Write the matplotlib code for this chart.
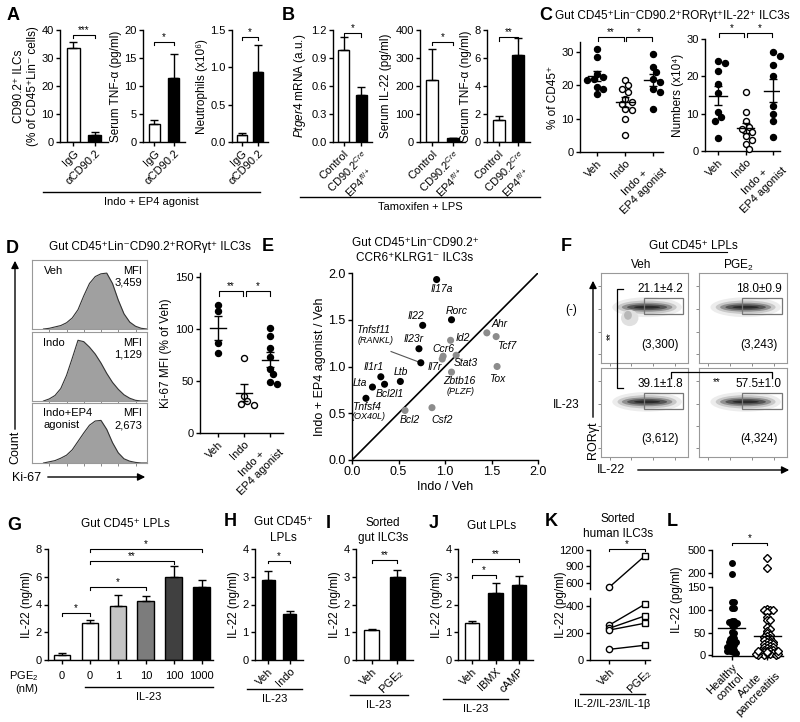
import numpy as np
import matplotlib
matplotlib.use('Agg')
import matplotlib.pyplot as plt
from matplotlib.lines import Line2D
from matplotlib.patches import Rectangle, Ellipse, FancyArrowPatch

plt.rcParams['font.family'] = ['Liberation Sans', 'DejaVu Sans']
plt.rcParams['mathtext.fontset'] = 'custom'
plt.rcParams['mathtext.rm'] = 'Liberation Sans'
plt.rcParams['mathtext.it'] = 'Liberation Sans:italic'
plt.rcParams['mathtext.bf'] = 'Liberation Sans:bold'
plt.rcParams['font.size'] = 8
plt.rcParams['axes.linewidth'] = 1.0
plt.rcParams['xtick.major.width'] = 1.0
plt.rcParams['ytick.major.width'] = 1.0
plt.rcParams['xtick.major.size'] = 3
plt.rcParams['ytick.major.size'] = 3
plt.rcParams['xtick.major.pad'] = 1.5
plt.rcParams['ytick.major.pad'] = 1.5
plt.rcParams['axes.labelpad'] = 2

# --- data ---
# A: Indo + EP4 agonist
a_groups = ['IgG', 'αCD90.2']
a_ilc = [33.4, 2.5]
a_ilc_err = [2.4, 1.0]
a_tnf = [3.2, 11.5]
a_tnf_err = [0.8, 4.3]
a_neut = [0.10, 0.94]
a_neut_err = [0.02, 0.36]

# B: Tamoxifen + LPS
b_groups = ['Control', 'CD90.2$^{Cre}$\nEP4$^{fl/+}$']
b_ptger4 = [0.99, 0.50]
b_ptger4_err = [0.13, 0.09]
b_il22 = [222, 13]
b_il22_err = [110, 3]
b_tnf = [1.58, 6.2]
b_tnf_err = [0.25, 1.2]

# C: IL-22+ ILC3s
c_groups = ['Veh', 'Indo', 'Indo +\nEP4 agonist']
c_pct_veh = [31, 28.5, 23.5, 22.5, 22, 21.5, 19.5, 19, 17.5]
c_pct_indo = [21.5, 20, 19, 18, 16, 15, 14.5, 13, 12.5, 10, 5]
c_pct_ep4 = [29.5, 25.5, 24, 22, 21, 19, 18, 13]
c_num_veh = [24, 23.5, 21.5, 18, 15.5, 10.5, 9, 8, 3.5]
c_num_indo = [15.8, 10.5, 8, 6.5, 6, 5, 4, 3, 2, 0.5]
c_num_ep4 = [26.5, 25.5, 23, 20, 12, 10, 8, 3.8]

# D: Ki-67
hist_pos = [0.10, 0.15, 0.20, 0.25, 0.30, 0.35, 0.40, 0.45, 0.50, 0.55,
            0.60, 0.65, 0.70, 0.75, 0.80, 0.85, 0.90, 0.95, 1.00]
hist_veh = [0, 0.01, 0.03, 0.05, 0.09, 0.16, 0.28, 0.48, 0.66, 0.76,
            0.80, 0.81, 0.66, 0.42, 0.22, 0.10, 0.04, 0.01, 0]
hist_indo = [0, 0.03, 0.08, 0.18, 0.37, 0.62, 0.88, 0.86, 0.78, 0.68,
             0.55, 0.40, 0.27, 0.17, 0.09, 0.04, 0.01, 0, 0]
hist_ep4 = [0, 0.02, 0.04, 0.08, 0.13, 0.22, 0.36, 0.50, 0.63, 0.70,
            0.71, 0.56, 0.34, 0.17, 0.07, 0.03, 0.01, 0, 0]
hist_names = ['Veh', 'Indo', 'Indo+EP4\nagonist']
hist_mfi = ['3,459', '1,129', '2,673']
d_veh = [123, 117, 87, 77]
d_indo = [72, 36, 31, 28, 27]
d_ep4 = [101, 93, 82, 73, 62, 57, 49, 47]

# E: gene expression ratios
e_genes = ['Il17a', 'Il22', 'Rorc', 'Il23r', 'Tnfsf11', 'Il1r1', 'Ltb', 'Lta', 'Bcl2l1', 'Tnfsf4',
           'Id2', 'Ccr6', 'Il7r', 'Stat3', 'Ahr', 'Tcf7', 'Tox', 'Zbtb16', 'Bcl2', 'Csf2']
e_indo = [0.91, 0.76, 1.07, 0.72, 0.74, 0.31, 0.52, 0.22, 0.35, 0.15,
          1.06, 0.98, 0.97, 1.12, 1.45, 1.55, 1.56, 1.07, 0.57, 0.86]
e_ep4 = [1.93, 1.44, 1.50, 1.19, 1.04, 0.89, 0.84, 0.78, 0.81, 0.66,
         1.28, 1.11, 1.08, 1.12, 1.36, 1.32, 1.00, 0.94, 0.53, 0.56]
e_group = ['up'] * 10 + ['other'] * 10
e_label_xy = {'Il17a': (0.97, 1.83), 'Il22': (0.69, 1.54), 'Rorc': (1.13, 1.59),
              'Il23r': (0.66, 1.29), 'Tnfsf11': (0.23, 1.39), 'Il1r1': (0.23, 0.99),
              'Ltb': (0.53, 0.94), 'Lta': (0.09, 0.82), 'Bcl2l1': (0.41, 0.71),
              'Tnfsf4': (0.16, 0.57), 'Id2': (1.19, 1.30), 'Ccr6': (0.98, 1.19),
              'Il7r': (0.89, 0.99), 'Stat3': (1.22, 1.04), 'Ahr': (1.59, 1.45),
              'Tcf7': (1.66, 1.22), 'Tox': (1.56, 0.87), 'Zbtb16': (1.15, 0.84),
              'Bcl2': (0.62, 0.43), 'Csf2': (0.97, 0.43)}
e_sub = {'Tnfsf11': '(RANKL)', 'Tnfsf4': '(OX40L)', 'Zbtb16': '(PLZF)'}

# F: flow plots
f_cols = ['Veh', 'PGE$_2$']
f_rows = ['(-)', 'IL-23']
f_pct = [['21.1±4.2', '18.0±0.9'], ['39.1±1.8', '57.5±1.0']]
f_mfi = [['(3,300)', '(3,243)'], ['(3,612)', '(4,324)']]

# G-J: IL-22 (ng/ml)
g_pge2 = ['0', '0', '1', '10', '100', '1000']
g_il22 = [0.36, 2.64, 3.9, 4.24, 5.95, 5.23]
g_err = [0.16, 0.24, 0.76, 0.36, 0.80, 0.57]
g_colors = ['white', 'white', '#c4c4c4', '#7c7c7c', '#404040', 'black']
h_groups = ['Veh', 'Indo']
h_il22 = [2.88, 1.65]
h_err = [0.32, 0.13]
i_groups = ['Veh', 'PGE$_2$']
i_il22 = [1.08, 3.0]
i_err = [0.03, 0.23]
j_groups = ['Veh', 'IBMX', 'cAMP']
j_il22 = [1.32, 2.40, 2.70]
j_err = [0.10, 0.38, 0.34]

# K: human ILC3s (pg/ml), paired
k_groups = ['Veh', 'PGE$_2$']
k_veh = [520, 259, 235, 222, 79]
k_pge2 = [1090, 412, 326, 272, 109]

# L: serum IL-22 (pg/ml)
l_groups = ['Healthy\ncontrol', 'Acute\npancreatitis']
l_healthy = [326, 183, 118, 117, 104, 104, 75, 75, 74, 72, 67, 64, 52, 50, 40, 37, 35, 32,
             30, 28, 25, 22, 20, 18, 15, 12, 10, 8, 7, 5]
l_acute = [392, 261, 102, 101, 100, 100, 95, 84, 78, 77, 62, 58, 54, 48, 45, 42, 40, 38, 35,
           33, 32, 30, 28, 26, 25, 24, 22, 20, 18, 17, 15, 14, 12, 11, 10, 9, 8, 7, 6, 5, 4,
           3, 2, 1, 0, 1, 2, 3, 5, 6, 8, 9]

# --- helpers ---
W, H = 800, 722
fig = plt.figure(figsize=(W / 100, H / 100), dpi=100)


def add_ax(l, t, r, b):
    return fig.add_axes([l / W, 1 - b / H, (r - l) / W, (b - t) / H])


def ftext(x, y, s, **kw):
    kw.setdefault('ha', 'center')
    kw.setdefault('va', 'center')
    fig.text(x / W, 1 - y / H, s, **kw)


def fline(xs, ys, **kw):
    kw.setdefault('color', 'black')
    kw.setdefault('lw', 1)
    fig.add_artist(Line2D([x / W for x in xs], [1 - y / H for y in ys], **kw))


def farrow(x0, y0, x1, y1):
    fig.add_artist(FancyArrowPatch((x0 / W, 1 - y0 / H), (x1 / W, 1 - y1 / H),
                                   transform=fig.transFigure, arrowstyle='-|>',
                                   mutation_scale=11, color='black', lw=1))


def letter(x, y, s):
    ftext(x, y, s, fontsize=13, fontweight='bold')


def prism(ax):
    ax.spines['top'].set_visible(False)
    ax.spines['right'].set_visible(False)
    ax.tick_params(direction='out', labelsize=8)


def sig(ax, x1, x2, y, s, drop):
    ax.plot([x1, x1, x2, x2], [y - drop, y, y, y - drop], color='black', lw=0.8, clip_on=False)
    ax.text((x1 + x2) / 2, y, s, ha='center', va='bottom', fontsize=7, clip_on=False)


def rot_labels(ax, labels):
    ax.set_xticklabels(labels, rotation=45, ha='right', rotation_mode='anchor',
                       multialignment='center', fontsize=8)


def group_line(x1, x2, y, s):
    fline([x1, x2], [y, y])
    ftext((x1 + x2) / 2, y + 10, s, fontsize=8)


def bars(ax, vals, errs, colors, labels, ylim, yticks, ylabel, ytl=None):
    x = np.arange(len(vals))
    ax.bar(x, vals, width=0.6, color=colors, edgecolor='black', linewidth=1, zorder=2)
    ax.errorbar(x, vals, yerr=[np.zeros(len(vals)), errs], fmt='none', ecolor='black',
                elinewidth=1, capsize=3, capthick=1, zorder=3)
    ax.set_xlim(-0.6, len(vals) - 0.4)
    ax.set_ylim(*ylim)
    ax.set_yticks(yticks)
    if ytl:
        ax.set_yticklabels(ytl)
    ax.set_xticks(x)
    if labels is not None:
        rot_labels(ax, labels)
    ax.set_ylabel(ylabel, fontsize=8.5)
    prism(ax)


def swarm(ax, vals, gap, maxw=None):
    # simple beeswarm: push each point sideways until it no longer overlaps
    bb = ax.get_window_extent()
    ky = bb.height / np.ptp(ax.get_ylim())
    kx = bb.width / np.ptp(ax.get_xlim())
    placed, offs = [], []
    for v in vals:
        y = v * ky
        k = 0
        while True:
            o = ((k + 1) // 2) * (gap * 0.55) * (1 if k % 2 else -1)
            if maxw is not None and abs(o) > maxw * kx:
                o = np.sign(o) * (abs(o) % (maxw * kx))
                break
            if all((o - po) ** 2 + (y - py) ** 2 >= gap * gap * 0.95 for po, py in placed):
                break
            k += 1
        placed.append((o, y))
        offs.append(o / kx)
    return np.array(offs)


def column(ax, i, vals, filled, d=6.0, marker='o', sem=True, mean=True, gap=None, maxw=None):
    vals = np.array(vals, dtype=float)
    offs = swarm(ax, vals, gap if gap else d, maxw)
    ax.plot(i + offs, vals, marker, ms=d * 0.72, mfc='black' if filled else 'white',
            mec='black', mew=1, ls='none', zorder=3, clip_on=False)
    if mean:
        m = vals.mean()
        ax.plot([i - 0.32, i + 0.32], [m, m], color='black', lw=1, zorder=4)
        if sem:
            se = vals.std(ddof=1) / np.sqrt(len(vals))
            ax.errorbar(i, m, yerr=se, ecolor='black', elinewidth=1, capsize=3,
                        capthick=1, fmt='none', zorder=4)


# --- A ---
letter(13, 15, 'A')
ax = add_ax(60, 30, 108, 142)
bars(ax, a_ilc, a_ilc_err, ['white', 'black'], a_groups, (0, 40), [0, 10, 20, 30, 40],
     'CD90.2⁺ ILCs\n(% of CD45⁺Lin⁻ cells)')
sig(ax, 0, 1, 38.2, '***', 1.2)
ax = add_ax(143, 30, 185, 142)
bars(ax, a_tnf, a_tnf_err, ['white', 'black'], a_groups, (0, 20), [0, 5, 10, 15, 20],
     'Serum TNF-α (pg/ml)')
sig(ax, 0, 1, 17.9, '*', 0.6)
ax = add_ax(232, 30, 268, 142)
bars(ax, a_neut, a_neut_err, ['white', 'black'], a_groups, (0, 1.5), [0, 0.5, 1.0, 1.5],
     'Neutrophils (x10⁶)', ['0.0', '0.5', '1.0', '1.5'])
sig(ax, 0, 1, 1.41, '*', 0.05)
group_line(43, 260, 192, 'Indo + EP4 agonist')

# --- B ---
letter(288, 15, 'B')
ax = add_ax(333, 30, 372, 142)
bars(ax, b_ptger4, b_ptger4_err, ['white', 'black'], b_groups, (0, 1.2),
     [0, 0.3, 0.6, 0.9, 1.2], '$\\it{Ptger4}$ mRNA (a.u.)', ['0.0', '0.3', '0.6', '0.9', '1.2'])
sig(ax, 0, 1, 1.17, '*', 0.04)
ax = add_ax(420, 30, 465, 142)
bars(ax, b_il22, b_il22_err, ['white', 'black'], b_groups, (0, 400),
     [0, 100, 200, 300, 400], 'Serum IL-22 (pg/ml)')
sig(ax, 0, 1, 358, '*', 12)
ax = add_ax(487, 30, 530, 142)
bars(ax, b_tnf, b_tnf_err, ['white', 'black'], b_groups, (0, 8), [0, 2, 4, 6, 8],
     'Serum TNF-α (ng/ml)')
sig(ax, 0, 1, 7.5, '**', 0.25)
group_line(300, 540, 197, 'Tamoxifen + LPS')

# --- C ---
letter(546, 16, 'C')
ftext(555, 16, 'Gut CD45⁺Lin⁻CD90.2⁺RORγt⁺IL-22⁺ ILC3s', ha='left', fontsize=8.5)
ax = add_ax(580, 42, 663, 152)
ax.set_xlim(-0.6, 2.35)
ax.set_ylim(0, 33)
ax.set_yticks([0, 10, 20, 30])
ax.set_xticks([0, 1, 2])
rot_labels(ax, c_groups)
ax.set_ylabel('% of CD45⁺', fontsize=8.5)
prism(ax)
column(ax, 0, c_pct_veh, True)
column(ax, 1, c_pct_indo, False)
column(ax, 2, c_pct_ep4, True)
sig(ax, 0.05, 0.95, 34.4, '**', 1)
sig(ax, 1.05, 1.95, 34.4, '*', 1)

ax = add_ax(705, 39, 780, 151)
ax.set_xlim(-0.47, 2.25)
ax.set_ylim(0, 30)
ax.set_yticks([0, 10, 20, 30])
ax.set_xticks([0, 1, 2])
rot_labels(ax, c_groups)
ax.set_ylabel('Numbers (x10⁴)', fontsize=8.5)
prism(ax)
column(ax, 0, c_num_veh, True)
column(ax, 1, c_num_indo, False)
column(ax, 2, c_num_ep4, True)
sig(ax, 0.05, 0.95, 31.5, '*', 0.9)
sig(ax, 1.05, 1.95, 31.5, '*', 0.9)

# --- D ---
letter(12, 248, 'D')
ftext(150, 247, 'Gut CD45⁺Lin⁻CD90.2⁺RORγt⁺ ILC3s', fontsize=8.5)
hist_boxes = [(32, 260, 147, 329), (32, 332, 147, 401), (32, 403, 147, 463)]
for box, hv, name, mfi in zip(hist_boxes, [hist_veh, hist_indo, hist_ep4], hist_names, hist_mfi):
    hx = add_ax(*box)
    hx.fill_between(hist_pos, hv, color='#a0a0a0', lw=0)
    hx.plot(hist_pos, hv, color='#333333', lw=0.8)
    hx.set_xlim(0, 1)
    hx.set_ylim(0, 1)
    hx.set_yticks([])
    hx.set_xticks([0.15, 0.3, 0.45, 0.6, 0.75, 0.9])
    hx.set_xticklabels([])
    hx.tick_params(axis='x', length=2, width=0.6, color='#777777')
    for s in hx.spines.values():
        s.set_color('#999999')
        s.set_linewidth(0.8)
    hx.text(0.1, 0.92, name, ha='left', va='top', fontsize=8, linespacing=1.3, transform=hx.transAxes)
    hx.text(0.96, 0.92, 'MFI\n' + mfi, ha='right', va='top', fontsize=8, linespacing=1.3,
            transform=hx.transAxes)
farrow(15, 432, 15, 258)
ftext(15, 447, 'Count', rotation=90, fontsize=9)
ftext(27, 478, 'Ki-67', fontsize=9)
farrow(45, 477, 148, 477)

ax = add_ax(200, 273, 283, 433)
ax.set_xlim(-0.7, 2.5)
ax.set_ylim(0, 154)
ax.set_yticks([0, 50, 100, 150])
ax.set_xticks([0, 1, 2])
rot_labels(ax, c_groups)
ax.set_ylabel('Ki-67 MFI (% of Veh)', fontsize=8.5)
prism(ax)
column(ax, 0, d_veh, True)
column(ax, 1, d_indo, False)
column(ax, 2, d_ep4, True)
sig(ax, 0.05, 0.95, 137, '**', 5)
sig(ax, 1.08, 2.0, 137, '*', 5)

# --- E ---
letter(268, 247, 'E')
ftext(415, 243, 'Gut CD45⁺Lin⁻CD90.2⁺', fontsize=8.5)
ftext(415, 258, 'CCR6⁺KLRG1⁻ ILC3s', fontsize=8.5)
ax = add_ax(352, 273, 538, 460)
ax.plot([0, 2], [0, 2], color='black', lw=1.2)
ax.scatter(e_indo, e_ep4, s=26, c=['black' if g == 'up' else '#8c8c8c' for g in e_group],
           zorder=3, clip_on=False, linewidths=0)
for gene, gx, gy in zip(e_genes, e_indo, e_ep4):
    lx, ly = e_label_xy[gene]
    ax.text(lx, ly, gene, style='italic', fontsize=7.5, ha='center', va='center')
    if gene in e_sub:
        ax.text(lx + 0.02, ly - 0.11, e_sub[gene], style='italic', fontsize=6.5, ha='center', va='center')
    if gene == 'Tnfsf11':
        ax.plot([0.42, gx], [1.16, gy], color='#555555', lw=0.8)
ax.set_xlim(0, 2)
ax.set_ylim(0, 2)
ticks = [0, 0.5, 1.0, 1.5, 2.0]
tl = ['0.0', '0.5', '1.0', '1.5', '2.0']
ax.set_xticks(ticks)
ax.set_xticklabels(tl)
ax.set_yticks(ticks)
ax.set_yticklabels(tl)
prism(ax)
ax.tick_params(labelsize=9)
ax.set_xlabel('Indo / Veh', fontsize=9)
ax.set_ylabel('Indo + EP4 agonist / Veh', fontsize=9)

# --- F ---
letter(566, 247, 'F')
ftext(693, 246, 'Gut CD45⁺ LPLs', fontsize=8.5)
fline([660, 727], [252, 252], lw=0.8)
f_boxes = [[(601, 273, 688, 363), (699, 273, 787, 363)],
           [(601, 368, 688, 457), (699, 368, 787, 457)]]
blob = [(0.80, 0.22, '#ececec'), (0.68, 0.15, '#c8c8c8'), (0.58, 0.10, '#8f8f8f'),
        (0.46, 0.065, '#555555'), (0.30, 0.03, '#2a2a2a')]
for r in range(2):
    for c in range(2):
        fx = add_ax(*f_boxes[r][c])
        fx.set_xlim(0, 1)
        fx.set_ylim(0, 1)
        for wd, ht, col in blob:
            fx.add_patch(Ellipse((0.53, 0.62), wd, ht, color=col, lw=0))
        if r == 0 and c == 0:
            fx.add_patch(Ellipse((0.33, 0.50), 0.20, 0.18, color='#e0e0e0', lw=0))
            fx.add_patch(Ellipse((0.31, 0.53), 0.09, 0.10, color='#b8b8b8', lw=0))
        fx.add_patch(Rectangle((0.49, 0.54), 0.45, 0.18, fill=False, ec='#777777', lw=0.9))
        fx.text(0.68, 0.82, f_pct[r][c], ha='center', va='center', fontsize=8.5)
        fx.text(0.68, 0.20, f_mfi[r][c], ha='center', va='center', fontsize=8.5)
        fx.set_xticks([0.1, 0.35, 0.6, 0.85])
        fx.set_yticks([0.1, 0.35, 0.6, 0.85])
        fx.set_xticklabels([])
        fx.set_yticklabels([])
        fx.tick_params(length=2, width=0.6, color='#777777')
        for s in fx.spines.values():
            s.set_color('#999999')
            s.set_linewidth(0.8)
ftext(641, 265, f_cols[0], fontsize=8.5)
ftext(739, 265, f_cols[1], fontsize=8.5)
ftext(571, 310, f_rows[0], fontsize=8.5)
ftext(566, 405, f_rows[1], fontsize=8.5)
farrow(593, 420, 593, 278)
ftext(593, 440, 'RORγt', rotation=90, fontsize=9)
ftext(611, 470, 'IL-22', fontsize=9)
farrow(635, 470, 792, 470)
fline([623, 617, 617, 623], [289, 289, 388, 388], lw=0.9)
ftext(611, 336, '**', rotation=90, fontsize=7)
fline([671, 671, 772, 772], [378, 372, 372, 378], lw=0.9)
ftext(717, 382, '**', fontsize=7)

# --- G ---
letter(14, 525, 'G')
ftext(125, 524, 'Gut CD45⁺ LPLs', fontsize=8.5)
ax = add_ax(48, 549, 213, 660)
bars(ax, g_il22, g_err, g_colors, None, (0, 8), [0, 2, 4, 6, 8], 'IL-22 (ng/ml)')
ax.set_xlim(-0.5, 5.4)
ax.set_xticklabels(g_pge2, fontsize=8)
ax.tick_params(axis='x', pad=5)
sig(ax, 0, 1, 3.4, '*', 0.2)
sig(ax, 1, 3, 5.27, '*', 0.2)
sig(ax, 1, 4, 7.1, '**', 0.2)
sig(ax, 1, 5, 7.98, '*', 0.2)
ftext(24, 676, 'PGE$_2$', fontsize=8)
ftext(27, 689, '(nM)', fontsize=8)
group_line(85, 213, 687, 'IL-23')

# --- H ---
letter(230, 522, 'H')
ftext(283, 522, 'Gut CD45⁺', fontsize=8.5)
ftext(283, 538, 'LPLs', fontsize=8.5)
ax = add_ax(255, 549, 303, 660)
bars(ax, h_il22, h_err, ['black', 'black'], h_groups, (0, 4), [0, 1, 2, 3, 4], 'IL-22 (ng/ml)')
sig(ax, 0, 1, 3.58, '*', 0.1)
group_line(247, 302, 689, 'IL-23')

# --- I ---
letter(328, 523, 'I')
ftext(383, 523, 'Sorted', fontsize=8.5)
ftext(383, 538, 'gut ILC3s', fontsize=8.5)
ax = add_ax(356, 549, 413, 660)
bars(ax, i_il22, i_err, ['white', 'black'], i_groups, (0, 4), [0, 1, 2, 3, 4], 'IL-22 (ng/ml)')
sig(ax, 0, 1, 3.6, '**', 0.1)
group_line(350, 408, 695, 'IL-23')

# --- J ---
letter(434, 523, 'J')
ftext(492, 526, 'Gut LPLs', fontsize=8.5)
ax = add_ax(458, 549, 533, 660)
bars(ax, j_il22, j_err, ['white', 'black', 'black'], j_groups, (0, 4), [0, 1, 2, 3, 4],
     'IL-22 (ng/ml)')
sig(ax, 0, 1, 3.06, '*', 0.1)
sig(ax, 0, 2, 3.64, '**', 0.1)
group_line(443, 508, 699, 'IL-23')

# --- K ---
letter(551, 522, 'K')
ftext(618, 519, 'Sorted', fontsize=8.5)
ftext(618, 534, 'human ILC3s', fontsize=8.5)
kup = add_ax(590, 550, 650, 589)
klo = add_ax(590, 598, 650, 660)
for kx in (kup, klo):
    prism(kx)
    kx.set_xlim(-0.55, 1.15)
kup.spines['bottom'].set_visible(False)
kup.set_xticks([])
kup.set_ylim(484, 1200)
kup.set_yticks([600, 900, 1200])
klo.set_ylim(0, 459)
klo.set_yticks([0, 200, 400])
klo.set_xticks([0, 1])
rot_labels(klo, k_groups)
for v, p in zip(k_veh, k_pge2):
    kx = kup if v > 459 else klo
    kx.plot([0, 1], [v, p], color='black', lw=1, zorder=2)
    kx.plot([0], [v], 'o', ms=4.5, mfc='white', mec='black', mew=1, zorder=3, clip_on=False)
    kx.plot([1], [p], 's', ms=4, mfc='white', mec='black', mew=1, zorder=3, clip_on=False)
sig(kup, 0, 1, 1215, '*', 40)
ftext(561, 605, 'IL-22 (pg/ml)', rotation=90, fontsize=8.5)
group_line(580, 645, 694, 'IL-2/IL-23/IL-1β')

# --- L ---
letter(672, 522, 'L')
lup = add_ax(712, 550, 783, 577)
llo = add_ax(712, 587, 783, 656)
for lx in (lup, llo):
    prism(lx)
    lx.set_xlim(-0.55, 1.45)
lup.spines['bottom'].set_visible(False)
lup.set_xticks([])
lup.set_ylim(148, 500)
lup.set_yticks([200, 500])
llo.set_ylim(-2, 151)
llo.set_yticks([0, 50, 100, 150])
llo.set_xticks([0, 1])
rot_labels(llo, l_groups)
for i, (vals, filled, mk) in enumerate([(l_healthy, True, 'o'), (l_acute, False, 'D')]):
    vals = np.array(vals, dtype=float)
    hi = vals[vals > 150]
    lo = vals[vals <= 150]
    column(lup, i, hi, filled, d=5.5, marker=mk, mean=False, gap=2.6, maxw=0.36)
    column(llo, i, lo, filled, d=5.5, marker=mk, mean=False, gap=2.6, maxw=0.36)
    m = vals.mean()
    llo.plot([i - 0.38, i + 0.38], [m, m], color='black', lw=1, zorder=4)
sig(lup, 0, 1, 590, '*', 25)
ftext(677, 600, 'IL-22 (pg/ml)', rotation=90, fontsize=8.5)

fig.savefig('out.png', dpi=100, facecolor='white')
